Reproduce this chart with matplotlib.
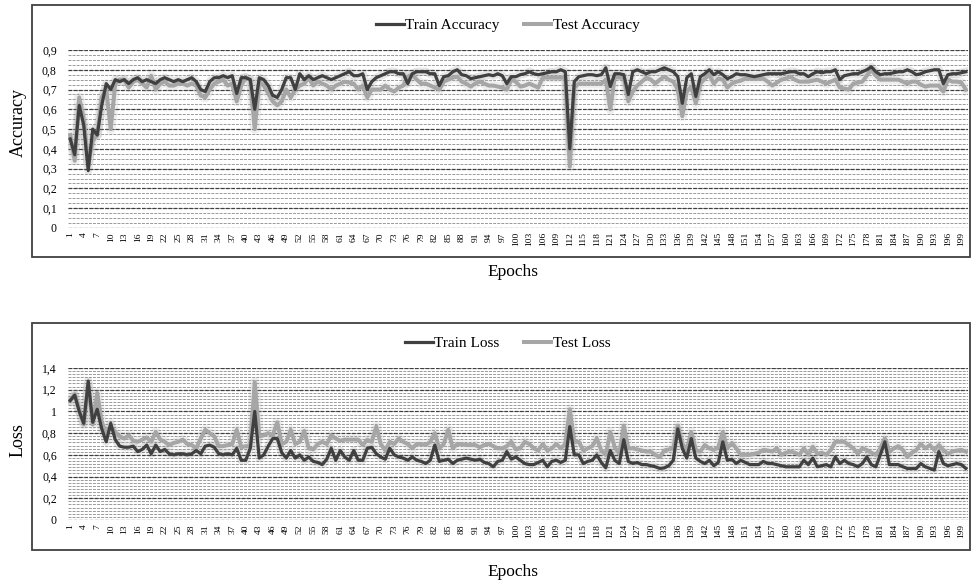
import matplotlib
matplotlib.use('Agg')
import matplotlib.pyplot as plt
from matplotlib.patches import Rectangle
import numpy as np

plt.rcParams['font.family'] = ['Liberation Serif', 'DejaVu Serif']

# accuracy per epoch (1..200)
train_acc = [0.45, 0.37, 0.62, 0.52, 0.29, 0.50, 0.47, 0.62, 0.73, 0.70,
             0.75, 0.74, 0.75, 0.73, 0.75, 0.76, 0.74, 0.75, 0.74, 0.73,
             0.75, 0.76, 0.75, 0.74, 0.75, 0.74, 0.75, 0.76, 0.74, 0.70,
             0.69, 0.74, 0.76, 0.76, 0.77, 0.76, 0.77, 0.68, 0.76, 0.76,
             0.75, 0.60, 0.76, 0.75, 0.72, 0.67, 0.66, 0.70, 0.76, 0.76,
             0.70, 0.78, 0.75, 0.77, 0.75, 0.76, 0.77, 0.76, 0.75, 0.76,
             0.77, 0.78, 0.79, 0.77, 0.77, 0.78, 0.70, 0.74, 0.76, 0.77,
             0.78, 0.79, 0.79, 0.78, 0.78, 0.73, 0.78, 0.79, 0.79, 0.79,
             0.78, 0.78, 0.72, 0.765, 0.77, 0.79, 0.80, 0.775, 0.77, 0.755,
             0.76, 0.765, 0.77, 0.775, 0.77, 0.78, 0.77, 0.73, 0.765, 0.765,
             0.775, 0.78, 0.79, 0.78, 0.775, 0.78, 0.785, 0.79, 0.79, 0.80,
             0.79, 0.40, 0.74, 0.765, 0.77, 0.775, 0.775, 0.77, 0.775, 0.81,
             0.715, 0.78, 0.78, 0.775, 0.675, 0.79, 0.80, 0.79, 0.78, 0.79,
             0.79, 0.80, 0.81, 0.80, 0.79, 0.765, 0.63, 0.76, 0.78, 0.665,
             0.765, 0.78, 0.80, 0.775, 0.79, 0.775, 0.755, 0.765, 0.78, 0.775,
             0.775, 0.77, 0.765, 0.77, 0.775, 0.78, 0.78, 0.78, 0.78, 0.785,
             0.79, 0.79, 0.78, 0.78, 0.765, 0.78, 0.79, 0.785, 0.79, 0.79,
             0.80, 0.75, 0.77, 0.775, 0.78, 0.78, 0.79, 0.80, 0.815, 0.79,
             0.775, 0.78, 0.78, 0.785, 0.79, 0.79, 0.80, 0.79, 0.775, 0.78,
             0.79, 0.795, 0.80, 0.80, 0.73, 0.775, 0.78, 0.78, 0.785, 0.79]
test_acc = [0.47, 0.34, 0.66, 0.55, 0.33, 0.44, 0.47, 0.66, 0.70, 0.50,
            0.73, 0.75, 0.75, 0.71, 0.74, 0.75, 0.73, 0.71, 0.77, 0.70,
            0.73, 0.74, 0.72, 0.72, 0.73, 0.73, 0.72, 0.73, 0.72, 0.67,
            0.66, 0.70, 0.73, 0.74, 0.75, 0.72, 0.73, 0.64, 0.72, 0.76,
            0.75, 0.50, 0.74, 0.72, 0.68, 0.64, 0.62, 0.64, 0.70, 0.66,
            0.70, 0.72, 0.73, 0.76, 0.72, 0.74, 0.73, 0.72, 0.70, 0.72,
            0.73, 0.74, 0.735, 0.73, 0.70, 0.72, 0.66, 0.70, 0.70, 0.70,
            0.72, 0.70, 0.69, 0.71, 0.72, 0.765, 0.775, 0.75, 0.73, 0.73,
            0.72, 0.71, 0.70, 0.74, 0.75, 0.76, 0.765, 0.74, 0.73, 0.715,
            0.73, 0.74, 0.73, 0.72, 0.72, 0.715, 0.71, 0.70, 0.75, 0.74,
            0.715, 0.72, 0.73, 0.72, 0.71, 0.76, 0.76, 0.76, 0.76, 0.76,
            0.76, 0.31, 0.71, 0.73, 0.73, 0.73, 0.73, 0.73, 0.73, 0.75,
            0.60, 0.765, 0.76, 0.76, 0.64, 0.69, 0.72, 0.74, 0.76, 0.75,
            0.73, 0.75, 0.765, 0.75, 0.74, 0.70, 0.565, 0.69, 0.715, 0.63,
            0.73, 0.755, 0.775, 0.73, 0.755, 0.75, 0.71, 0.73, 0.74, 0.745,
            0.755, 0.755, 0.755, 0.755, 0.755, 0.74, 0.72, 0.735, 0.75, 0.755,
            0.765, 0.75, 0.74, 0.74, 0.74, 0.745, 0.75, 0.74, 0.73, 0.74,
            0.75, 0.71, 0.705, 0.70, 0.73, 0.735, 0.74, 0.77, 0.80, 0.77,
            0.75, 0.75, 0.75, 0.75, 0.75, 0.74, 0.73, 0.74, 0.74, 0.725,
            0.715, 0.72, 0.72, 0.72, 0.69, 0.75, 0.74, 0.74, 0.735, 0.70]

# loss per epoch (1..200)
train_loss = [1.10, 1.15, 1.00, 0.89, 1.28, 0.90, 1.02, 0.84, 0.72, 0.89,
              0.74, 0.68, 0.67, 0.67, 0.68, 0.63, 0.65, 0.69, 0.61, 0.69,
              0.63, 0.65, 0.61, 0.60, 0.61, 0.61, 0.60, 0.61, 0.64, 0.61,
              0.68, 0.69, 0.67, 0.61, 0.60, 0.61, 0.60, 0.66, 0.55, 0.55,
              0.66, 1.00, 0.57, 0.60, 0.68, 0.75, 0.75, 0.62, 0.57, 0.64,
              0.57, 0.60, 0.55, 0.58, 0.54, 0.53, 0.51, 0.56, 0.66, 0.55,
              0.64, 0.58, 0.55, 0.64, 0.55, 0.55, 0.66, 0.67, 0.61, 0.58,
              0.56, 0.66, 0.60, 0.58, 0.57, 0.55, 0.58, 0.55, 0.54, 0.52,
              0.55, 0.69, 0.54, 0.55, 0.56, 0.52, 0.55, 0.56, 0.57, 0.56,
              0.55, 0.56, 0.53, 0.52, 0.49, 0.54, 0.55, 0.63, 0.56, 0.58,
              0.55, 0.52, 0.51, 0.51, 0.53, 0.55, 0.49, 0.54, 0.55, 0.53,
              0.55, 0.86, 0.60, 0.60, 0.52, 0.54, 0.55, 0.60, 0.53, 0.48,
              0.64, 0.55, 0.52, 0.74, 0.54, 0.52, 0.53, 0.51, 0.51, 0.50,
              0.49, 0.475, 0.48, 0.50, 0.55, 0.84, 0.66, 0.57, 0.75, 0.57,
              0.54, 0.52, 0.55, 0.50, 0.53, 0.72, 0.55, 0.56, 0.52, 0.55,
              0.53, 0.51, 0.51, 0.51, 0.54, 0.52, 0.52, 0.51, 0.50, 0.49,
              0.49, 0.49, 0.49, 0.55, 0.51, 0.57, 0.49, 0.50, 0.51, 0.49,
              0.58, 0.52, 0.55, 0.52, 0.51, 0.49, 0.52, 0.58, 0.51, 0.49,
              0.60, 0.72, 0.51, 0.51, 0.51, 0.49, 0.475, 0.475, 0.475, 0.52,
              0.49, 0.475, 0.46, 0.63, 0.52, 0.50, 0.51, 0.52, 0.51, 0.475]
test_loss = [1.10, 1.16, 1.02, 0.88, 1.24, 0.88, 1.17, 0.90, 0.80, 0.86,
             0.81, 0.77, 0.75, 0.78, 0.73, 0.72, 0.74, 0.76, 0.72, 0.81,
             0.74, 0.72, 0.69, 0.71, 0.72, 0.74, 0.70, 0.69, 0.66, 0.75,
             0.83, 0.80, 0.77, 0.68, 0.68, 0.69, 0.70, 0.83, 0.67, 0.68,
             0.68, 1.27, 0.77, 0.78, 0.80, 0.78, 0.90, 0.70, 0.72, 0.83,
             0.70, 0.72, 0.82, 0.66, 0.65, 0.70, 0.72, 0.70, 0.78, 0.75,
             0.73, 0.74, 0.74, 0.74, 0.74, 0.69, 0.74, 0.72, 0.86, 0.70,
             0.64, 0.72, 0.70, 0.75, 0.72, 0.70, 0.66, 0.70, 0.70, 0.69,
             0.72, 0.80, 0.66, 0.70, 0.83, 0.66, 0.70, 0.70, 0.69, 0.69,
             0.69, 0.67, 0.69, 0.70, 0.68, 0.66, 0.66, 0.68, 0.72, 0.65,
             0.66, 0.72, 0.70, 0.66, 0.64, 0.70, 0.64, 0.66, 0.70, 0.66,
             0.70, 1.02, 0.72, 0.72, 0.64, 0.66, 0.68, 0.75, 0.64, 0.60,
             0.81, 0.67, 0.61, 0.87, 0.66, 0.66, 0.65, 0.64, 0.63, 0.63,
             0.60, 0.58, 0.64, 0.65, 0.66, 0.87, 0.70, 0.645, 0.81, 0.645,
             0.63, 0.69, 0.66, 0.645, 0.67, 0.81, 0.66, 0.71, 0.66, 0.60,
             0.60, 0.60, 0.61, 0.62, 0.645, 0.64, 0.63, 0.66, 0.60, 0.62,
             0.63, 0.62, 0.60, 0.66, 0.60, 0.675, 0.61, 0.62, 0.60, 0.645,
             0.72, 0.72, 0.72, 0.69, 0.66, 0.61, 0.66, 0.645, 0.62, 0.60,
             0.66, 0.75, 0.63, 0.66, 0.68, 0.645, 0.58, 0.62, 0.645, 0.70,
             0.66, 0.69, 0.645, 0.69, 0.645, 0.61, 0.63, 0.64, 0.645, 0.63]

epochs = np.arange(1, len(train_acc) + 1)
dark = '#404040'
light = '#a6a6a6'


def comma(v, pos=None):
    return ('%g' % round(v, 2)).replace('.', ',')


def panel(ax, y1, y2, lab1, lab2, top, major, minor):
    # dashed grid, minor lines lighter
    for g in np.arange(0, top + 1e-6, minor):
        ax.axhline(g, color='#9a9a9a', lw=0.7, ls=(0, (3, 1.2)), zorder=0)
    for g in np.arange(0, top + 1e-6, major):
        ax.axhline(g, color='#404040', lw=0.9, ls=(0, (3, 1.2)), zorder=0)
    # soft halo like the original
    ax.plot(epochs, y2, color=light, lw=7, alpha=0.18, zorder=1, solid_joinstyle='round')
    ax.plot(epochs, y1, color=dark, lw=6, alpha=0.12, zorder=1, solid_joinstyle='round')
    ax.plot(epochs, y1, color=dark, lw=2.3, label=lab1, zorder=3)
    ax.plot(epochs, y2, color=light, lw=2.9, label=lab2, zorder=2)
    ax.set_xlim(0.5, 200.5)
    ax.set_ylim(0, top)
    ax.set_yticks(np.arange(0, top + 1e-6, major))
    ax.yaxis.set_major_formatter(plt.FuncFormatter(comma))
    ax.set_xticks(epochs[::3])
    ax.set_xticklabels([str(e) for e in epochs[::3]], rotation=90, fontsize=6.8)
    ax.tick_params(axis='y', labelsize=8.5, length=0, pad=8)
    ax.tick_params(axis='x', length=0, pad=3)
    for s in ax.spines.values():
        s.set_visible(False)


fig = plt.figure(figsize=(9.71, 5.84), dpi=100)

# chart area borders
fig.patches.append(Rectangle((0.033, 0.560), 0.966, 0.4315, transform=fig.transFigure,
                             fill=False, edgecolor=dark, lw=1.3))
fig.patches.append(Rectangle((0.033, 0.058), 0.966, 0.3887, transform=fig.transFigure,
                             fill=False, edgecolor=dark, lw=1.3))

ax1 = fig.add_axes([0.070, 0.6096, 0.927, 0.3048])
panel(ax1, train_acc, test_acc, 'Train Accuracy', 'Test Accuracy', 0.9, 0.1, 0.025)
ax2 = fig.add_axes([0.070, 0.1096, 0.927, 0.2603])
panel(ax2, train_loss, test_loss, 'Train Loss', 'Test Loss', 1.4, 0.2, 0.2 / 7)

for ax, yl in [(ax1, 0.957), (ax2, 0.412)]:
    h, l = ax.get_legend_handles_labels()
    fig.legend(h, l, loc='center', bbox_to_anchor=(0.523, yl), ncol=2, frameon=False,
               fontsize=11, handlelength=1.8, handletextpad=0.1, columnspacing=1.6)

fig.text(0.528, 0.534, 'Epochs', ha='center', va='center', fontsize=12.5)
fig.text(0.528, 0.020, 'Epochs', ha='center', va='center', fontsize=12.5)
fig.text(0.019, 0.791, 'Accuracy', ha='center', va='center', rotation=90, fontsize=13)
fig.text(0.019, 0.247, 'Loss', ha='center', va='center', rotation=90, fontsize=13)

fig.savefig('out.png', dpi=100)
